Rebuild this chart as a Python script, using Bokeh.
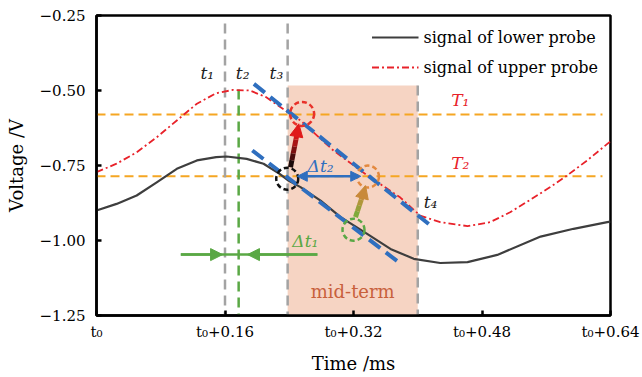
from bokeh.plotting import figure
from bokeh.models import Range1d, FixedTicker, Arrow, NormalHead, Legend, LegendItem
from bokeh.core.properties import value
from bokeh.embed import file_html
from bokeh.resources import INLINE

# ---------------- data ----------------
time_lower = [0.000, 0.025, 0.050, 0.075, 0.100, 0.125, 0.149, 0.162, 0.187, 0.208,
              0.228, 0.239, 0.254, 0.279, 0.304, 0.337, 0.366, 0.395, 0.428, 0.462,
              0.499, 0.553, 0.594, 0.636, 0.640]
volt_lower = [-0.900, -0.878, -0.850, -0.806, -0.761, -0.733, -0.722, -0.720, -0.728, -0.744,
              -0.778, -0.800, -0.822, -0.867, -0.922, -0.978, -1.028, -1.061, -1.075, -1.072,
              -1.048, -0.987, -0.961, -0.939, -0.937]

time_upper = [0.000, 0.025, 0.050, 0.075, 0.100, 0.125, 0.149, 0.170, 0.191, 0.211,
              0.232, 0.254, 0.295, 0.337, 0.378, 0.403, 0.428, 0.462, 0.490, 0.515,
              0.545, 0.565, 0.586, 0.611, 0.636, 0.640]
volt_upper = [-0.772, -0.744, -0.706, -0.656, -0.600, -0.544, -0.509, -0.498, -0.500, -0.522,
              -0.561, -0.600, -0.700, -0.783, -0.856, -0.917, -0.939, -0.952, -0.939, -0.906,
              -0.856, -0.822, -0.783, -0.733, -0.678, -0.670]

tangent_upper_t = [0.196, 0.416]
tangent_upper_v = [-0.478, -0.950]
tangent_lower_t = [0.194, 0.376]
tangent_lower_v = [-0.700, -1.072]

t_marks = {"t1": 0.160, "t2": 0.177, "t3": 0.238, "t4": 0.400}
T1 = -0.580
T2 = -0.786

circle_t = [0.256, 0.2375, 0.338, 0.320]
circle_v = [-0.578, -0.794, -0.787, -0.964]
circle_colors = ["#e8322a", "#111111", "#e3893f", "#5aa845"]

x_ticks = [0.0, 0.16, 0.32, 0.48, 0.64]
x_tick_labels = ["t\u2080", "t\u2080+0.16", "t\u2080+0.32", "t\u2080+0.48", "t\u2080+0.64"]
y_ticks = [-1.25, -1.00, -0.75, -0.50, -0.25]
y_tick_labels = ["\u22121.25", "\u22121.00", "\u22120.75", "\u22120.50", "\u22120.25"]

FONT = "DejaVu Serif"

p = figure(width=642, height=377, output_backend="svg", toolbar_location=None,
           x_range=Range1d(0, 0.64), y_range=Range1d(-1.25, -0.25),
           min_border_left=96, min_border_right=32, min_border_top=15, min_border_bottom=62)
p.xgrid.visible = False
p.ygrid.visible = False
p.outline_line_color = "black"
p.outline_line_width = 2.5
p.background_fill_color = "white"
p.border_fill_color = "white"

for ax in (p.xaxis[0], p.yaxis[0]):
    ax.axis_line_width = 2.5
    ax.major_tick_in = 5
    ax.major_tick_out = 0
    ax.major_tick_line_width = 2.5
    ax.minor_tick_line_color = None
    ax.major_label_text_font = FONT
    ax.major_label_text_font_size = "15px"
    ax.major_label_text_color = "black"
    ax.axis_label_text_font = FONT
    ax.axis_label_text_font_size = "18px"
    ax.axis_label_text_font_style = "normal"
    ax.axis_label_text_color = "black"

p.xaxis.ticker = FixedTicker(ticks=x_ticks)
p.xaxis.major_label_overrides = dict(zip(x_ticks, x_tick_labels))
p.xaxis.major_label_standoff = 7
p.xaxis.axis_label = "Time /ms"
p.xaxis.axis_label_standoff = 9
p.yaxis.ticker = FixedTicker(ticks=y_ticks)
p.yaxis.major_label_overrides = dict(zip(y_ticks, y_tick_labels))
p.yaxis.major_label_standoff = 11
p.yaxis.axis_label = "Voltage /V"
p.yaxis.axis_label_standoff = 10

# shaded mid-term region
p.quad(left=[t_marks["t3"]], right=[t_marks["t4"]], bottom=[-1.25], top=[-0.483],
       fill_color="#f6d4c3", line_color=None)

# threshold lines
p.segment(x0=[0, 0], x1=[0.63, 0.63], y0=[T1, T2], y1=[T1, T2],
          line_color="#f5a623", line_width=2, line_dash="9 5")

# vertical time markers
p.segment(x0=[t_marks["t1"], t_marks["t3"], t_marks["t4"]],
          x1=[t_marks["t1"], t_marks["t3"], t_marks["t4"]],
          y0=[-0.277, -0.277, -0.483], y1=[-1.25, -1.25, -1.25],
          line_color="#a3a3a3", line_width=2.5, line_dash="10 6")
p.segment(x0=[t_marks["t2"]], x1=[t_marks["t2"]], y0=[-0.497], y1=[-1.25],
          line_color="#5aa845", line_width=2.5, line_dash="10 6")

# signals
r_low = p.line(time_lower, volt_lower, line_color="#3e3e3e", line_width=2.2,
               line_join="round")
r_up = p.line(time_upper, volt_upper, line_color="#e8222a", line_width=1.8,
              line_dash="7 3 2 3", line_join="round")

# tangents
p.line(tangent_upper_t, tangent_upper_v, line_color="#2f6fbf", line_width=4, line_dash="14 7")
p.line(tangent_lower_t, tangent_lower_v, line_color="#2f6fbf", line_width=4, line_dash="14 7")

# circles
p.scatter(circle_t, circle_v, marker="circle", size=[24, 22, 22, 22], fill_color=None,
          line_color=circle_colors, line_width=2.5, line_dash="5 3")

# Δt2 double arrow
p.add_layout(Arrow(start=NormalHead(size=10, fill_color="#2f6fbf", line_color="#2f6fbf"),
                   end=NormalHead(size=10, fill_color="#2f6fbf", line_color="#2f6fbf"),
                   x_start=0.250, y_start=T2, x_end=0.329, y_end=T2,
                   line_color="#2f6fbf", line_width=2.5))

# Δt1 arrows
dt1_y = -1.047
p.segment(x0=[0.105], x1=[0.275], y0=[dt1_y], y1=[dt1_y], line_color="#5aa845", line_width=2.5)
p.add_layout(Arrow(end=NormalHead(size=12, fill_color="#5aa845", line_color="#5aa845"),
                   x_start=0.105, y_start=dt1_y, x_end=0.157, y_end=dt1_y,
                   line_color="#5aa845", line_width=2.5))
p.add_layout(Arrow(end=NormalHead(size=12, fill_color="#5aa845", line_color="#5aa845"),
                   x_start=0.275, y_start=dt1_y, x_end=0.188, y_end=dt1_y,
                   line_color="#5aa845", line_width=2.5))

# gradient arrow black -> red
red_colors = ["#1a0a0a", "#4a0c0c", "#7a1010", "#a81414", "#d01818"]
x0, y0, x1, y1 = 0.2416, -0.756, 0.2500, -0.640
n = len(red_colors)
p.segment(x0=[x0 + (x1 - x0) * i / n for i in range(n)],
          x1=[x0 + (x1 - x0) * (i + 1) / n for i in range(n)],
          y0=[y0 + (y1 - y0) * i / n for i in range(n)],
          y1=[y0 + (y1 - y0) * (i + 1) / n for i in range(n)],
          line_color=red_colors, line_width=5)
p.add_layout(Arrow(end=NormalHead(size=13, fill_color="#e01a1a", line_color="#e01a1a"),
                   x_start=0.2495, y_start=-0.645, x_end=0.2519, y_end=-0.611,
                   line_color="#e01a1a", line_width=5))

# gradient arrow green -> orange
go_colors = ["#7faa3a", "#98a03a", "#b0973a", "#c28c3a"]
x0, y0, x1, y1 = 0.3225, -0.922, 0.3320, -0.845
n = len(go_colors)
p.segment(x0=[x0 + (x1 - x0) * i / n for i in range(n)],
          x1=[x0 + (x1 - x0) * (i + 1) / n for i in range(n)],
          y0=[y0 + (y1 - y0) * i / n for i in range(n)],
          y1=[y0 + (y1 - y0) * (i + 1) / n for i in range(n)],
          line_color=go_colors, line_width=5)
p.add_layout(Arrow(end=NormalHead(size=13, fill_color="#c8893a", line_color="#c8893a"),
                   x_start=0.3315, y_start=-0.850, x_end=0.3350, y_end=-0.817,
                   line_color="#c8893a", line_width=5))

# texts
def txt(x, y, s, color, size="17px", style="italic"):
    p.text(x=[x], y=[y], text=[s], text_color=color, text_font=value(FONT),
           text_font_size=size, text_font_style=style, text_align="center",
           text_baseline="middle")

txt(0.138, -0.443, "t\u2081", "#222222")
txt(0.182, -0.443, "t\u2082", "#222222")
txt(0.224, -0.443, "t\u2083", "#222222")
txt(0.416, -0.873, "t\u2084", "#222222")
txt(0.453, -0.533, "T\u2081", "#e8222a")
txt(0.453, -0.743, "T\u2082", "#e8222a")
txt(0.279, -0.750, "\u0394t\u2082", "#2f6fbf")
txt(0.260, -1.000, "\u0394t\u2081", "#5aa845")
txt(0.319, -1.170, "mid-term", "#c8603c", size="18px", style="normal")

legend = Legend(items=[LegendItem(label="signal of lower probe", renderers=[r_low]),
                       LegendItem(label="signal of upper probe", renderers=[r_up])],
                location="top_right")
legend.label_text_font = FONT
legend.label_text_font_size = "16px"
legend.label_text_color = "black"
legend.border_line_alpha = 0
legend.background_fill_alpha = 0
legend.glyph_width = 47
legend.glyph_height = 20
legend.label_height = 20
legend.label_standoff = 5
legend.spacing = 10
legend.margin = 8
legend.padding = 4
p.add_layout(legend)

open("out.html", "w").write(file_html(p, INLINE))
